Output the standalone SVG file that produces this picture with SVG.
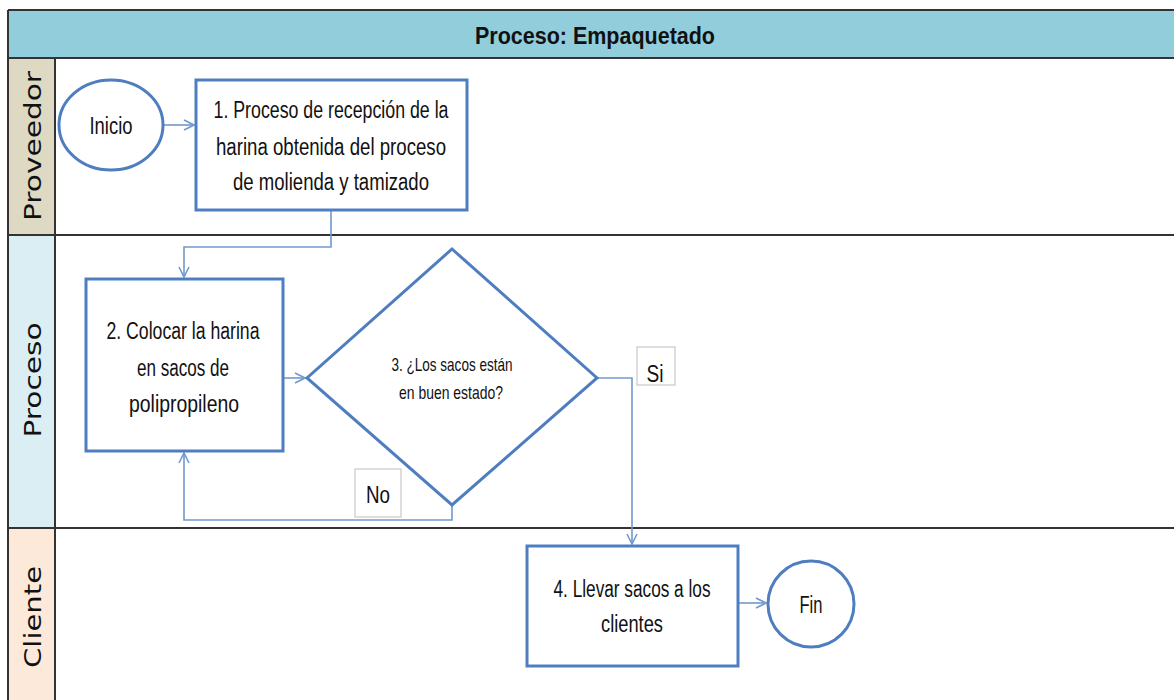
<svg xmlns="http://www.w3.org/2000/svg" width="1174" height="700" viewBox="0 0 1174 700">
<defs>
<style>
.t{font-family:"Liberation Sans",Arial,sans-serif;font-size:23px;fill:#111;text-anchor:middle}
.t.s{font-size:19px}
.lane{font-family:"DejaVu Sans",Verdana,sans-serif;font-size:23px;fill:#111;text-anchor:middle}
.node{fill:#fff;stroke:#4F7EC0;stroke-width:3}
.conn{fill:none;stroke:#7199CF;stroke-width:1.6}
.lbl{fill:#fff;stroke:#C8C8C8;stroke-width:1.2}
.bd{stroke:#333;stroke-width:2;fill:none}
</style>
<marker id="arr" viewBox="0 0 12 12" refX="11" refY="6" markerWidth="12" markerHeight="12" markerUnits="userSpaceOnUse" orient="auto">
<path d="M1,1 L11,6 L1,11" fill="none" stroke="#7199CF" stroke-width="1.6"/>
</marker>
</defs>
<rect x="0" y="0" width="1174" height="700" fill="#fff"/>
<g id="swimlanes">
<rect x="8" y="10" width="1166" height="48" fill="#92CDDC"/>
<rect x="8" y="58" width="47" height="177" fill="#DDD9C3"/>
<rect x="8" y="235" width="47" height="293" fill="#DAEEF3"/>
<rect x="8" y="528" width="47" height="172" fill="#FDE9D9"/>
<line class="bd" x1="8" y1="10" x2="1174" y2="10"/>
<line class="bd" x1="8" y1="58" x2="1174" y2="58"/>
<line class="bd" x1="8" y1="235" x2="1174" y2="235"/>
<line class="bd" x1="8" y1="528" x2="1174" y2="528"/>
<line class="bd" x1="8" y1="10" x2="8" y2="700"/>
<line class="bd" x1="55" y1="58" x2="55" y2="700"/>
<text class="t" x="595" y="44" font-weight="bold" font-size="25" textLength="240" lengthAdjust="spacingAndGlyphs">Proceso: Empaquetado</text>
<text class="lane" transform="translate(41,146) rotate(-90)" textLength="150" lengthAdjust="spacingAndGlyphs">Proveedor</text>
<text class="lane" transform="translate(41,380) rotate(-90)" textLength="115" lengthAdjust="spacingAndGlyphs">Proceso</text>
<text class="lane" transform="translate(41,617) rotate(-90)" textLength="102" lengthAdjust="spacingAndGlyphs">Cliente</text>
</g>
<g id="connectors">
<line class="conn" x1="163" y1="125" x2="194" y2="125" marker-end="url(#arr)"/>
<polyline class="conn" points="331,210 331,247 184,247 184,277" marker-end="url(#arr)"/>
<line class="conn" x1="283" y1="378" x2="305" y2="378" marker-end="url(#arr)"/>
<polyline class="conn" points="597,378 632,378 632,544" marker-end="url(#arr)"/>
<polyline class="conn" points="452,505 452,520 184,520 184,453" marker-end="url(#arr)"/>
<line class="conn" x1="738" y1="603" x2="766" y2="603" marker-end="url(#arr)"/>
<rect class="lbl" x="637" y="347" width="38" height="38"/>
<text class="t" x="655" y="382" textLength="17" lengthAdjust="spacingAndGlyphs">Si</text>
<rect class="lbl" x="355" y="469" width="46" height="48"/>
<text class="t" x="378" y="503" textLength="24" lengthAdjust="spacingAndGlyphs">No</text>
</g>
<g id="inicio">
<ellipse class="node" cx="111" cy="125" rx="52" ry="45"/>
<text class="t" x="111" y="134" textLength="43" lengthAdjust="spacingAndGlyphs">Inicio</text>
</g>
<g id="n1">
<rect class="node" x="196" y="80" width="271" height="130"/>
<text class="t" x="331" y="118" textLength="235" lengthAdjust="spacingAndGlyphs">1. Proceso de recepción de la</text>
<text class="t" x="331" y="155" textLength="230" lengthAdjust="spacingAndGlyphs">harina obtenida del proceso</text>
<text class="t" x="331" y="190" textLength="196" lengthAdjust="spacingAndGlyphs">de molienda y tamizado</text>
</g>
<g id="n2">
<rect class="node" x="86" y="279" width="197" height="172"/>
<text class="t" x="183" y="339" textLength="153" lengthAdjust="spacingAndGlyphs">2. Colocar la harina</text>
<text class="t" x="183" y="376" textLength="92" lengthAdjust="spacingAndGlyphs">en sacos de</text>
<text class="t" x="184" y="412" textLength="110" lengthAdjust="spacingAndGlyphs">polipropileno</text>
</g>
<g id="n3">
<polygon class="node" points="452,249 597,378 452,505 307,378"/>
<text class="t s" x="452" y="371" textLength="121" lengthAdjust="spacingAndGlyphs">3. ¿Los sacos están</text>
<text class="t s" x="451" y="399" textLength="104" lengthAdjust="spacingAndGlyphs">en buen estado?</text>
</g>
<g id="n4">
<rect class="node" x="527" y="546" width="211" height="120"/>
<text class="t" x="632" y="597" textLength="157" lengthAdjust="spacingAndGlyphs">4. Llevar sacos a los</text>
<text class="t" x="632" y="632" textLength="62" lengthAdjust="spacingAndGlyphs">clientes</text>
</g>
<g id="fin">
<circle class="node" cx="811" cy="604" r="43"/>
<text class="t" x="811" y="613" textLength="23" lengthAdjust="spacingAndGlyphs">Fin</text>
</g>
</svg>
